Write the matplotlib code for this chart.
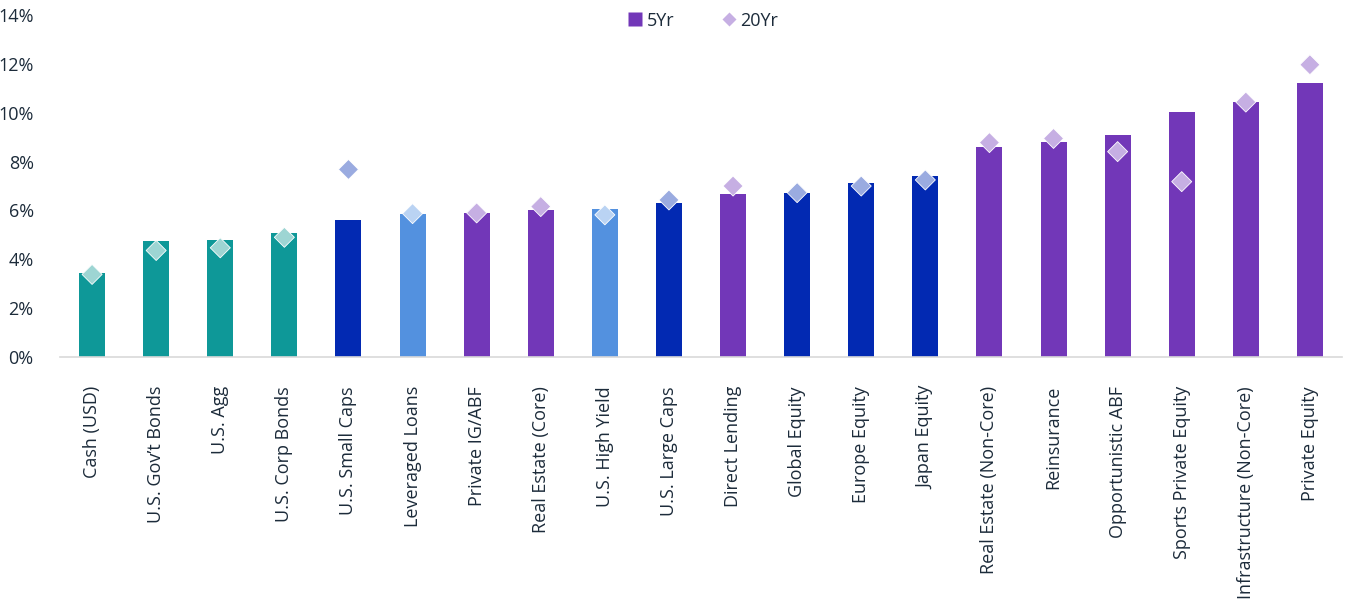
import matplotlib
matplotlib.use("Agg")
import matplotlib.pyplot as plt
from matplotlib.lines import Line2D
import numpy as np

categories = [
    "Cash (USD)", "U.S. Gov’t Bonds", "U.S. Agg", "U.S. Corp Bonds",
    "U.S. Small Caps", "Leveraged Loans", "Private IG/ABF", "Real Estate (Core)",
    "U.S. High Yield", "U.S. Large Caps", "Direct Lending", "Global Equity",
    "Europe Equity", "Japan Equity", "Real Estate (Non-Core)", "Reinsurance",
    "Opportunistic ABF", "Sports Private Equity", "Infrastructure (Non-Core)",
    "Private Equity",
]
five_yr = [3.44, 4.75, 4.80, 5.08, 5.61, 5.86, 5.90, 6.02, 6.07, 6.31,
           6.68, 6.72, 7.13, 7.42, 8.61, 8.81, 9.10, 10.03, 10.45, 11.23]
twenty_yr = [3.38, 4.36, 4.47, 4.90, 7.68, 5.87, 5.90, 6.16, 5.82, 6.43,
             7.00, 6.73, 7.00, 7.25, 8.78, 8.95, 8.41, 7.18, 10.44, 11.97]
groups = ["fixed", "fixed", "fixed", "fixed", "equity", "credit", "private",
          "private", "credit", "equity", "private", "equity", "equity", "equity",
          "private", "private", "private", "private", "private", "private"]
y_ticks = [0, 2, 4, 6, 8, 10, 12, 14]

bar_colors = {"fixed": "#0E9898", "equity": "#0229B2",
              "credit": "#5391DF", "private": "#7237B8"}
dot_colors = {"fixed": "#9DD5D3", "equity": "#9AABE0",
              "credit": "#BAD3F3", "private": "#C6AFE3"}
text_color = "#1C2B3A"

plt.rcParams["font.family"] = ["Open Sans", "DejaVu Sans"]

fig = plt.figure(figsize=(13.46, 6.06), dpi=100)
ax = fig.add_axes([0.0446, 0.411, 0.9524, 0.564])

x = np.arange(len(categories))
ax.bar(x, five_yr, width=0.405, color=[bar_colors[g] for g in groups], zorder=2)
ax.scatter(x, twenty_yr, marker="D", s=10.2 ** 2,
           c=[dot_colors[g] for g in groups], edgecolors="white",
           linewidths=0.6, zorder=3)

ax.set_xlim(-0.5, len(categories) - 0.5)
ax.set_ylim(0, 14)
ax.set_yticks(y_ticks)
ax.set_yticklabels([f"{t}%" for t in y_ticks])
ax.set_xticks(x)
ax.set_xticklabels(categories, rotation=90, va="top", ha="center")

ax.tick_params(axis="x", length=0, pad=21, labelsize=13, colors=text_color)
ax.tick_params(axis="y", length=0, pad=19, labelsize=13, colors=text_color)
for side in ("top", "right", "left"):
    ax.spines[side].set_visible(False)
ax.spines["bottom"].set_color("#D9D9D9")
ax.spines["bottom"].set_linewidth(1.2)

handles = [
    Line2D([], [], marker="s", linestyle="none", markersize=10,
           markerfacecolor="#7237B8", markeredgecolor="none", label="5Yr"),
    Line2D([], [], marker="D", linestyle="none", markersize=7,
           markerfacecolor="#C6AFE3", markeredgecolor="none", label="20Yr"),
]
leg = fig.legend(handles=handles, loc="center", bbox_to_anchor=(0.521, 0.966),
                 ncol=2, frameon=False, fontsize=13, handletextpad=0.05,
                 columnspacing=2.4, handlelength=1.2)
for t in leg.get_texts():
    t.set_color(text_color)

fig.savefig("out.png", dpi=100)
